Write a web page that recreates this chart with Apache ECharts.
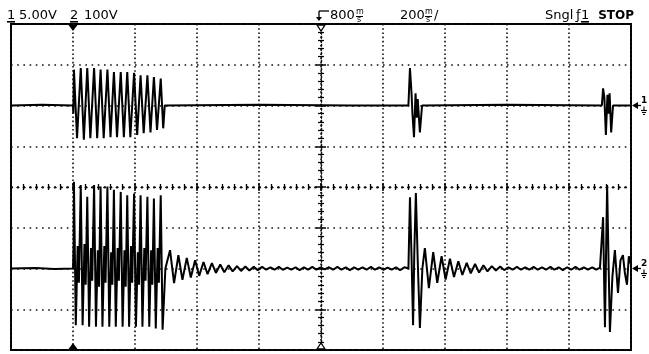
<!DOCTYPE html>
<html>
<head>
<meta charset="utf-8">
<script src="https://cdn.jsdelivr.net/npm/echarts@6.0.0/dist/echarts.min.js"></script>
<style>
  html, body { margin: 0; padding: 0; background: #fff; }
  #scope { width: 649px; height: 354px; }
</style>
</head>
<body>
<div id="scope"></div>
<script>
// Time base: milliseconds relative to the trigger, 200 ms/div, 10 divisions.
const timeMin = -200;
const timeMax = 1800;
const timeStep = 200;
// Channel 1: 5 V/div, ground two divisions above centre.
const ch1Min = -30, ch1Max = 10, ch1Step = 5;
// Channel 2: 100 V/div, ground two divisions below centre.
const ch2Min = -200, ch2Max = 600, ch2Step = 100;

// Header readouts
const ch1Label = ['1', '5.00V'];
const ch2Label = ['2', '100V'];
const delayLabel = '800';
const timebaseLabel = '200';
const unitTop = 'm';
const unitBottom = 's';
const modeLabel = 'Sngl';
const trigLabel = ['\u0192', '1'];
const stateLabel = 'STOP';
const markerLabels = ['1', '2'];

// Channel 1 trace: [ms, volts]
const ch1Trace = [
  [-200, 0], [-100, 0.1], [0, 0], [1, -1.0],
  [3, 4.4], [13, -4.0], [25, 4.6], [35, -4.2], [46, 4.6], [56, -4.0],
  [68, 4.6], [78, -4.0], [89, 4.4], [99, -4.0], [111, 4.4], [121, -3.9],
  [132, 4.1], [142, -3.9], [154, 4.1], [164, -3.9], [175, 4.1], [185, -3.9],
  [197, 4.0], [207, -3.6], [218, 3.7], [228, -3.4], [240, 3.7], [250, -3.3],
  [261, 3.5], [271, -3.0], [283, 3.3], [291, -2.8], [296, 0],
  [600, 0.1], [900, 0], [1082, 0],
  [1087, 4.6], [1092, 1.5], [1095, -1.0], [1100, -3.9], [1105, 1.5],
  [1109, -1.5], [1112, 0.8], [1119, -3.3], [1126, 0],
  [1400, 0.1], [1706, 0],
  [1710, 2.1], [1714, 1.0], [1719, -3.6], [1724, 1.3], [1728, -1.0],
  [1731, 1.5], [1736, -3.3], [1742, 0], [1800, 0]
];

// Channel 2 trace: [ms, volts]
const ch2Trace = [
  [-200, 0], [-120, 1], [-60, -1], [0, 0],
  [2, 60], [3, 213], [6, 40], [9, -139], [15, 55], [19, -35],
  [25, 205], [31, -139], [37, 60], [41, -40],
  [46, 176], [52, -143], [58, 50], [62, -30],
  [68, 205], [74, -143], [80, 45], [84, -45],
  [89, 201], [95, -143], [101, 55], [105, -35],
  [111, 201], [117, -143], [123, 40], [127, -40],
  [132, 193], [138, -143], [144, 50], [148, -30],
  [154, 188], [160, -143], [166, 45], [170, -45],
  [175, 180], [181, -143], [187, 55], [191, -35],
  [197, 184], [203, -143], [209, 40], [213, -40],
  [218, 180], [224, -143], [230, 50], [234, -30],
  [240, 176], [246, -143], [252, 45], [256, -40],
  [261, 172], [267, -147], [273, 50], [277, -35],
  [283, 180], [289, -150], [298, 0],
  [313, 45], [326, -36], [340, 33], [353, -28], [367, 26], [380, -22], [394, 20], [407, -18],
  [421, 16], [434, -14], [448, 13], [461, -11], [475, 10], [488, -9], [502, 8], [515, -7],
  [529, 6], [542, -6], [556, 5], [569, -5], [583, 4], [596, -4], [610, 4], [623, -3],
  [637, 3], [650, -3], [664, 4], [677, -3], [691, 2], [704, -3], [718, 3], [731, -4],
  [745, 3], [758, -3], [772, 4], [785, -3], [799, 3], [812, -2], [826, 3], [839, -3],
  [853, 4], [866, -3], [880, 3], [893, -4], [907, 3], [920, -3], [934, 3], [947, -3],
  [961, 4], [974, -3], [988, 3], [1001, -3], [1015, 2], [1028, -3], [1042, 3], [1055, -4],
  [1069, 3], [1082, 0],
  [1087, 175], [1092, 30], [1097, -139], [1101, 40], [1106, 185], [1112, 20], [1119, -146], [1127, 0],
  [1135, 50], [1148, -48], [1162, 40], [1175, -35], [1189, 30], [1202, -27], [1216, 24], [1229, -21],
  [1243, 18], [1256, -16], [1270, 14], [1283, -12], [1297, 11], [1310, -10], [1324, 8], [1337, -7],
  [1351, 6], [1364, -5], [1378, 5], [1391, -4],
  [1405, 3], [1418, -3], [1432, 4], [1445, -3], [1459, 3], [1472, -3], [1486, 4], [1499, -3],
  [1513, 3], [1526, -3], [1540, 4], [1553, -3], [1567, 3], [1580, -4], [1594, 3], [1607, -3],
  [1621, 4], [1634, -3], [1648, 3], [1661, -3], [1675, 3], [1688, -3], [1700, 2], [1706, 0],
  [1710, 126], [1714, -60], [1716, -144], [1720, 60], [1723, 205], [1728, 0], [1732, -156],
  [1740, -20], [1748, 45], [1758, -60], [1766, 20], [1774, 33], [1780, -10], [1787, -40],
  [1793, 30], [1800, 10]
];

const INK = '#000';
const FONT = '"DejaVu Sans", sans-serif';
const chart = echarts.init(document.getElementById('scope'), null, { renderer: 'canvas' });

const GRID = { left: 11, top: 24, width: 620, height: 326 };

function crossAxisX(inside) {
  return {
    type: 'value', min: timeMin, max: timeMax, interval: timeStep,
    position: 'bottom', offset: -GRID.height / 2,
    axisLine: { show: true, lineStyle: { color: '#111', width: 1.3, type: [1.5, 4.7] } },
    axisTick: { show: true, inside: inside, length: 4, lineStyle: { color: INK, width: 1.5 } },
    minorTick: { show: true, splitNumber: 5, length: 3, lineStyle: { color: INK, width: 1.3 } },
    axisLabel: { show: false }, splitLine: { show: false }, minorSplitLine: { show: false }
  };
}
function crossAxisY(inside) {
  return {
    type: 'value', min: -4, max: 4, interval: 1,
    position: 'left', offset: -GRID.width / 2,
    axisLine: { show: true, lineStyle: { color: '#111', width: 1.3, type: [1.5, 2.5] } },
    axisTick: { show: true, inside: inside, length: 5, lineStyle: { color: INK, width: 1.5 } },
    minorTick: { show: true, splitNumber: 5, length: 3, lineStyle: { color: INK, width: 1.2 } },
    axisLabel: { show: false }, splitLine: { show: false }, minorSplitLine: { show: false }
  };
}

const option = {
  animation: false,
  backgroundColor: '#fff',
  grid: Object.assign({ show: true, borderColor: INK, borderWidth: 2, backgroundColor: 'transparent' }, GRID),
  xAxis: [
    {
      type: 'value', min: timeMin, max: timeMax, interval: timeStep,
      axisLine: { show: false }, axisTick: { show: false }, axisLabel: { show: false },
      splitLine: { show: true, lineStyle: { color: '#111', width: 1.6, type: [1.6, 2.6] } }
    },
    crossAxisX(true),
    crossAxisX(false)
  ],
  yAxis: [
    { type: 'value', min: ch1Min, max: ch1Max, interval: ch1Step, show: false },
    { type: 'value', min: ch2Min, max: ch2Max, interval: ch2Step, show: false },
    {
      type: 'value', min: -4, max: 4, interval: 1,
      axisLine: { show: false }, axisTick: { show: false }, axisLabel: { show: false },
      splitLine: { show: true, lineStyle: { color: '#111', width: 1.6, type: [1.6, 4.6] } }
    },
    crossAxisY(true),
    crossAxisY(false)
  ],
  series: [
    {
      name: 'CH1', type: 'line', xAxisIndex: 0, yAxisIndex: 0,
      data: ch1Trace, showSymbol: false, symbol: 'none', clip: true,
      lineStyle: { color: INK, width: 2 }, z: 5
    },
    {
      name: 'CH2', type: 'line', xAxisIndex: 0, yAxisIndex: 1,
      data: ch2Trace, showSymbol: false, symbol: 'none', clip: true,
      lineStyle: { color: INK, width: 2 }, z: 5
    }
  ]
};
chart.setOption(option);

// Markers and readouts placed through the axis scales
function toPx(t, v, yi) {
  return chart.convertToPixel({ xAxisIndex: 0, yAxisIndex: yi }, [t, v]);
}
const plotTop = GRID.top, plotBottom = GRID.top + GRID.height;
const trigX = toPx(0, 0, 0)[0];
const centreX = toPx((timeMin + timeMax) / 2, 0, 0)[0];
const rightX = toPx(timeMax, 0, 0)[0];
const g1 = toPx(timeMax, 0, 0)[1];
const g2 = toPx(timeMax, 0, 1)[1];

const TEXT_FONT = '13px ' + FONT;
function txt(x, y, s, font, align) {
  return { type: 'text', x: x, y: y, z: 20, style: { text: s, font: font || TEXT_FONT, fill: INK, align: align || 'left', verticalAlign: 'middle' } };
}
function rect(x, y, w, h) {
  return { type: 'rect', z: 20, shape: { x: x, y: y, width: w, height: h }, style: { fill: INK } };
}
function poly(points, hollow) {
  return { type: 'polygon', z: 21, shape: { points: points },
    style: hollow ? { fill: '#fff', stroke: INK, lineWidth: 1.3 } : { fill: INK } };
}
function seg(x1, y1, x2, y2, w) {
  return { type: 'line', z: 21, shape: { x1: x1, y1: y1, x2: x2, y2: y2 }, style: { stroke: INK, lineWidth: w || 1.3 } };
}
function unitStack(x) {
  return [
    txt(x, 12, unitTop, '8px ' + FONT),
    seg(x, 16.5, x + 7, 16.5, 1),
    txt(x + 1, 20, unitBottom, '8px ' + FONT)
  ];
}
function groundMarker(y, label) {
  return [
    poly([[rightX + 1, y], [rightX + 7, y - 3.5], [rightX + 7, y + 3.5]]),
    seg(rightX + 7, y, rightX + 10, y, 1.3),
    txt(rightX + 10, y - 5, label, 'bold 9px ' + FONT),
    seg(rightX + 13, y + 1, rightX + 13, y + 5, 1.1),
    seg(rightX + 10, y + 5, rightX + 16, y + 5, 1.1),
    seg(rightX + 11, y + 7, rightX + 15, y + 7, 1.1),
    seg(rightX + 12, y + 9, rightX + 14, y + 9, 1.1)
  ];
}

const els = [
  // channel readouts
  txt(7, 16, ch1Label[0]), rect(7, 21, 8, 1.6),
  txt(19, 16, ch1Label[1]),
  txt(70, 16, ch2Label[0]), rect(70, 21, 8, 1.6),
  txt(84, 16, ch2Label[1]),
  // delay readout with reference arrow
  seg(centreX - 2, 11, centreX + 8, 11, 1.3),
  seg(centreX - 2, 11, centreX - 2, 20, 1.3),
  poly([[centreX - 5, 17], [centreX + 1, 17], [centreX - 2, 21]]),
  txt(centreX + 9, 16, delayLabel),
  // timebase readout
  txt(400, 16, timebaseLabel),
  txt(434, 16, '/'),
  // acquisition state
  txt(545, 16, modeLabel),
  txt(576, 16, trigLabel[0]),
  txt(581, 16, trigLabel[1]), rect(581, 21, 8, 1.6),
  txt(634, 16, stateLabel, 'bold 12px ' + FONT, 'right'),
  // trigger position markers
  poly([[trigX - 4.5, plotTop + 1], [trigX + 4.5, plotTop + 1], [trigX, plotTop + 7]]),
  poly([[trigX - 4.5, plotBottom - 1], [trigX + 4.5, plotBottom - 1], [trigX, plotBottom - 7]]),
  // screen centre markers
  poly([[centreX - 4, plotTop + 1], [centreX + 4, plotTop + 1], [centreX, plotTop + 7]], true),
  poly([[centreX - 4, plotBottom - 1], [centreX + 4, plotBottom - 1], [centreX, plotBottom - 7]], true)
]
  .concat(unitStack(centreX + 35))
  .concat(unitStack(400 + 25))
  .concat(groundMarker(g1, markerLabels[0]))
  .concat(groundMarker(g2, markerLabels[1]));

chart.setOption({ graphic: { elements: els } });
</script>
</body>
</html>
